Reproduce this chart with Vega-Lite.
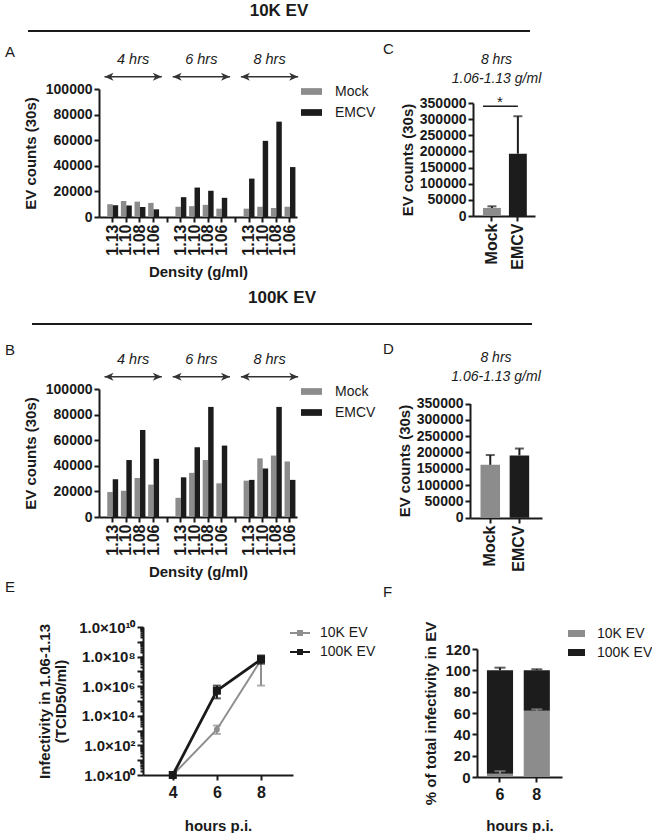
{
"$schema":"https://vega.github.io/schema/vega-lite/v6.json",
"padding":{"left":5,"top":2,"right":0,"bottom":0},
"bounds":"flush","spacing":0,"columns":4,"align":"each",
"resolve":{"scale":{"color":"independent","x":"independent","y":"independent","xOffset":"independent","shape":"independent","size":"independent","strokeWidth":"independent"},"legend":{"color":"independent"}},
"config":{"font":"Liberation Sans","view":{"stroke":null},
"axis":{"domainColor":"#1a1a1a","domainWidth":2,"tickColor":"#1a1a1a","tickWidth":2,"tickSize":5,"labelFontWeight":"bold","labelFontSize":14,"labelColor":"#1a1a1a","titleFontWeight":"bold","titleFontSize":15,"titleColor":"#1a1a1a","grid":false,"labelPadding":2,"labelOverlap":false,"labelFlush":false,"tickCount":500},
"title":{"color":"#1a1a1a"},"legend":{"labelColor":"#1a1a1a"}},
"datasets":{
"a10k":[
{"cat":"4h-1.13","series":"Mock","count":10000},{"cat":"4h-1.13","series":"EMCV","count":9200},
{"cat":"4h-1.10","series":"Mock","count":12500},{"cat":"4h-1.10","series":"EMCV","count":9000},
{"cat":"4h-1.08","series":"Mock","count":12000},{"cat":"4h-1.08","series":"EMCV","count":7800},
{"cat":"4h-1.06","series":"Mock","count":11000},{"cat":"4h-1.06","series":"EMCV","count":6000},
{"cat":"6h-1.13","series":"Mock","count":8000},{"cat":"6h-1.13","series":"EMCV","count":15500},
{"cat":"6h-1.10","series":"Mock","count":8500},{"cat":"6h-1.10","series":"EMCV","count":23000},
{"cat":"6h-1.08","series":"Mock","count":9500},{"cat":"6h-1.08","series":"EMCV","count":20500},
{"cat":"6h-1.06","series":"Mock","count":6500},{"cat":"6h-1.06","series":"EMCV","count":15000},
{"cat":"8h-1.13","series":"Mock","count":6500},{"cat":"8h-1.13","series":"EMCV","count":30000},
{"cat":"8h-1.10","series":"Mock","count":8000},{"cat":"8h-1.10","series":"EMCV","count":59500},
{"cat":"8h-1.08","series":"Mock","count":7000},{"cat":"8h-1.08","series":"EMCV","count":74500},
{"cat":"8h-1.06","series":"Mock","count":8000},{"cat":"8h-1.06","series":"EMCV","count":39000}],
"b100k":[
{"cat":"4h-1.13","series":"Mock","count":19500},{"cat":"4h-1.13","series":"EMCV","count":29500},
{"cat":"4h-1.10","series":"Mock","count":20500},{"cat":"4h-1.10","series":"EMCV","count":44500},
{"cat":"4h-1.08","series":"Mock","count":30500},{"cat":"4h-1.08","series":"EMCV","count":68000},
{"cat":"4h-1.06","series":"Mock","count":25300},{"cat":"4h-1.06","series":"EMCV","count":45500},
{"cat":"6h-1.13","series":"Mock","count":15000},{"cat":"6h-1.13","series":"EMCV","count":31000},
{"cat":"6h-1.10","series":"Mock","count":34500},{"cat":"6h-1.10","series":"EMCV","count":54500},
{"cat":"6h-1.08","series":"Mock","count":44500},{"cat":"6h-1.08","series":"EMCV","count":86000},
{"cat":"6h-1.06","series":"Mock","count":26300},{"cat":"6h-1.06","series":"EMCV","count":55800},
{"cat":"8h-1.13","series":"Mock","count":28400},{"cat":"8h-1.13","series":"EMCV","count":29000},
{"cat":"8h-1.10","series":"Mock","count":45800},{"cat":"8h-1.10","series":"EMCV","count":37900},
{"cat":"8h-1.08","series":"Mock","count":48000},{"cat":"8h-1.08","series":"EMCV","count":86000},
{"cat":"8h-1.06","series":"Mock","count":43400},{"cat":"8h-1.06","series":"EMCV","count":29000}],
"arrows":[
{"label":"4 hrs","first":"4h-1.13","last":"4h-1.06","mid":"4h-1.10"},
{"label":"6 hrs","first":"6h-1.13","last":"6h-1.06","mid":"6h-1.10"},
{"label":"8 hrs","first":"8h-1.13","last":"8h-1.06","mid":"8h-1.10"}],
"c10k":[{"series":"Mock","value":25000,"upper":30000},{"series":"EMCV","value":193000,"upper":309000}],
"d100k":[{"series":"Mock","value":162000,"upper":192000},{"series":"EMCV","value":191000,"upper":212000}],
"einf":[
{"hours":4,"series":"10K EV","value":1},{"hours":6,"series":"10K EV","value":1200,"lo":600,"hi":2200},{"hours":8,"series":"10K EV","value":60000000,"lo":1100000,"hi":110000000},
{"hours":4,"series":"100K EV","value":1},{"hours":6,"series":"100K EV","value":500000,"lo":150000,"hi":1100000},{"hours":8,"series":"100K EV","value":65000000,"lo":33000000,"hi":120000000}],
"fpct":[{"hours":"6","series":"10K EV","pct":3},{"hours":"6","series":"100K EV","pct":97},{"hours":"8","series":"10K EV","pct":62},{"hours":"8","series":"100K EV","pct":38}],
"ferr":[{"hours":"6","series":"100K EV","lo":100,"hi":102.5},{"hours":"6","series":"10K EV","lo":3,"hi":5.5},{"hours":"8","series":"100K EV","lo":100,"hi":101},{"hours":"8","series":"10K EV","lo":62,"hi":63.5}]
},
"concat":[
{"width":71,"height":58,"data":{"values":[{}]},"mark":{"type":"rule","strokeWidth":2,"color":"#1a1a1a"},
 "encoding":{"x":{"datum":0,"type":"quantitative","scale":{"domain":[0,1],"range":[0,502]},"axis":null},"x2":{"datum":1},"y":{"datum":1,"type":"quantitative","scale":{"domain":[0,1]},"axis":null}},
 "title":{"text":"10K EV","anchor":"middle","frame":"group","dx":215.5,"fontSize":17,"fontWeight":"bold","offset":10}},
{"width":1,"height":1,"data":{"values":[{}]},"mark":"text","encoding":{}},
{"width":1,"height":1,"data":{"values":[{}]},"mark":"text","encoding":{}},
{"width":1,"height":1,"data":{"values":[{}]},"mark":"text","encoding":{}},

{"width":71,"height":235,"data":{"values":[{}]},"mark":"text","encoding":{},"title":{"text":"A","anchor":"start","frame":"group","dx":-23,"offset":29,"fontSize":15,"fontWeight":"normal"}},
{"width":198,"height":128,"layer":[
  {"data":{"name":"a10k"},"mark":{"type":"bar"},"encoding":{
   "x":{"field":"cat","type":"nominal","sort":null,"scale":{"domain":["4h-1.13","4h-1.10","4h-1.08","4h-1.06","gap1","6h-1.13","6h-1.10","6h-1.08","6h-1.06","gap2","8h-1.13","8h-1.10","8h-1.08","8h-1.06"],"paddingInner":0.2,"paddingOuter":0.36,"align":0.84},"axis":{"labelExpr":"indexof(datum.value,'-')>0 ? split(datum.value,'-')[1] : ''","labelAngle":270,"labelFontSize":16,"title":"Density (g/ml)","titlePadding":9}},
   "xOffset":{"field":"series","type":"nominal","scale":{"domain":["Mock","EMCV"],"paddingInner":0,"paddingOuter":0}},
   "y":{"field":"count","type":"quantitative","scale":{"domain":[0,100000],"nice":false},"axis":{"values":[0,20000,40000,60000,80000,100000],"format":"d","title":"EV counts (30s)","titlePadding":7}},
   "color":{"field":"series","type":"nominal","scale":{"domain":["Mock","EMCV"],"range":["#8c8c8c","#1c1c1c"]},"legend":{"title":null,"orient":"none","legendX":202,"legendY":-8,"direction":"vertical","symbolType":"M-1,-0.32L1,-0.32L1,0.32L-1,0.32Z","symbolSize":441,"symbolStrokeWidth":0,"labelFontSize":14,"labelOffset":13,"rowPadding":3,"padding":0}}}},
  {"data":{"name":"arrows"},"mark":{"type":"rule","color":"#333333","strokeWidth":1.5},"encoding":{
   "x":{"field":"first","type":"nominal","bandPosition":-0.25,"scale":{"domain":["4h-1.13","4h-1.10","4h-1.08","4h-1.06","gap1","6h-1.13","6h-1.10","6h-1.08","6h-1.06","gap2","8h-1.13","8h-1.10","8h-1.08","8h-1.06"],"paddingInner":0.2,"paddingOuter":0.36,"align":0.84}},
   "x2":{"field":"last","bandPosition":1.25},
   "y":{"datum":109500,"type":"quantitative","scale":{"domain":[0,100000],"nice":false}}}},
  {"data":{"name":"arrows"},"mark":{"type":"point","shape":"M0,0L1.8,-0.8L1.3,0L1.8,0.8Z","filled":true,"size":100,"color":"#333333","opacity":1},"encoding":{
   "x":{"field":"first","type":"nominal","bandPosition":-0.25,"scale":{"domain":["4h-1.13","4h-1.10","4h-1.08","4h-1.06","gap1","6h-1.13","6h-1.10","6h-1.08","6h-1.06","gap2","8h-1.13","8h-1.10","8h-1.08","8h-1.06"],"paddingInner":0.2,"paddingOuter":0.36,"align":0.84}},
   "y":{"datum":109500,"type":"quantitative","scale":{"domain":[0,100000],"nice":false}}}},
  {"data":{"name":"arrows"},"mark":{"type":"point","shape":"M0,0L-1.8,-0.8L-1.3,0L-1.8,0.8Z","filled":true,"size":100,"color":"#333333","opacity":1},"encoding":{
   "x":{"field":"last","type":"nominal","bandPosition":1.25,"scale":{"domain":["4h-1.13","4h-1.10","4h-1.08","4h-1.06","gap1","6h-1.13","6h-1.10","6h-1.08","6h-1.06","gap2","8h-1.13","8h-1.10","8h-1.08","8h-1.06"],"paddingInner":0.2,"paddingOuter":0.36,"align":0.84}},
   "y":{"datum":109500,"type":"quantitative","scale":{"domain":[0,100000],"nice":false}}}},
  {"data":{"name":"arrows"},"mark":{"type":"text","fontStyle":"italic","fontSize":14.5,"color":"#1a1a1a"},"encoding":{
   "x":{"field":"mid","type":"nominal","bandPosition":1.125,"scale":{"domain":["4h-1.13","4h-1.10","4h-1.08","4h-1.06","gap1","6h-1.13","6h-1.10","6h-1.08","6h-1.06","gap2","8h-1.13","8h-1.10","8h-1.08","8h-1.06"],"paddingInner":0.2,"paddingOuter":0.36,"align":0.84}},
   "y":{"datum":123000,"type":"quantitative","scale":{"domain":[0,100000],"nice":false}},
   "text":{"field":"label"}}}
]},
{"width":173,"height":20,"data":{"values":[{}]},"mark":"text","encoding":{},"title":{"text":"C","anchor":"start","frame":"group","dx":86,"offset":32,"fontSize":15,"fontWeight":"normal"}},
{"width":65,"height":127,
 "title":{"text":["8 hrs","1.06-1.13 g/ml"],"frame":"group","anchor":"middle","dx":-6,"offset":3,"fontSize":14,"fontStyle":"italic","fontWeight":"normal","lineHeight":19},
 "layer":[
  {"data":{"name":"c10k"},"mark":{"type":"bar"},"encoding":{
   "x":{"field":"series","type":"nominal","sort":null,"scale":{"domain":["Mock","EMCV"],"paddingInner":0.31,"paddingOuter":0.35,"align":0.55,"range":[3,65]},"axis":{"labelAngle":270,"labelFontSize":16,"title":null}},
   "y":{"field":"value","type":"quantitative","scale":{"domain":[0,350000],"nice":false,"range":[127,14]},"axis":{"values":[0,50000,100000,150000,200000,250000,300000,350000],"format":"d","title":"EV counts (30s)","titlePadding":4,"offset":-3}},
   "color":{"field":"series","type":"nominal","scale":{"domain":["Mock","EMCV"],"range":["#8c8c8c","#1c1c1c"]},"legend":null}}},
  {"data":{"name":"c10k"},"mark":{"type":"rule","color":"#1c1c1c","strokeWidth":2},"encoding":{
   "x":{"field":"series","type":"nominal","scale":{"domain":["Mock","EMCV"],"paddingInner":0.31,"paddingOuter":0.35,"align":0.55,"range":[3,65]}},
   "y":{"field":"value","type":"quantitative","scale":{"domain":[0,350000],"nice":false,"range":[127,14]}},"y2":{"field":"upper"}}},
  {"data":{"name":"c10k"},"mark":{"type":"tick","color":"#1c1c1c","orient":"horizontal","size":9,"thickness":2},"encoding":{
   "x":{"field":"series","type":"nominal","scale":{"domain":["Mock","EMCV"],"paddingInner":0.31,"paddingOuter":0.35,"align":0.55,"range":[3,65]}},
   "y":{"field":"upper","type":"quantitative","scale":{"domain":[0,350000],"nice":false,"range":[127,14]}}}},
  {"data":{"values":[{"from":"Mock","to":"EMCV","mark":"*"}]},"mark":{"type":"rule","color":"#1c1c1c","strokeWidth":1.5},"encoding":{
   "x":{"field":"from","type":"nominal","bandPosition":0,"scale":{"domain":["Mock","EMCV"],"paddingInner":0.31,"paddingOuter":0.35,"align":0.55,"range":[3,65]}},
   "x2":{"field":"to","bandPosition":0.5},
   "y":{"datum":340000,"type":"quantitative","scale":{"domain":[0,350000],"nice":false,"range":[127,14]}}}},
  {"data":{"values":[{"from":"Mock","to":"EMCV","mark":"*"}]},"mark":{"type":"text","fontSize":15,"baseline":"alphabetic","color":"#1c1c1c"},"encoding":{
   "x":{"field":"from","type":"nominal","bandPosition":0.94,"scale":{"domain":["Mock","EMCV"],"paddingInner":0.31,"paddingOuter":0.35,"align":0.55,"range":[3,65]}},
   "y":{"datum":338000,"type":"quantitative","scale":{"domain":[0,350000],"nice":false,"range":[127,14]}},
   "text":{"field":"mark"}}}
]},

{"width":71,"height":65,"data":{"values":[{}]},"mark":{"type":"rule","strokeWidth":2,"color":"#1a1a1a"},
 "encoding":{"x":{"datum":0,"type":"quantitative","scale":{"domain":[0,1],"range":[4,504]},"axis":null},"x2":{"datum":1},"y":{"datum":1,"type":"quantitative","scale":{"domain":[0,1]},"axis":null}},
 "title":{"text":"100K EV","anchor":"middle","frame":"group","dx":218.5,"fontSize":17,"fontWeight":"bold","offset":16}},
{"width":1,"height":1,"data":{"values":[{}]},"mark":"text","encoding":{}},
{"width":1,"height":1,"data":{"values":[{}]},"mark":"text","encoding":{}},
{"width":1,"height":1,"data":{"values":[{}]},"mark":"text","encoding":{}},

{"width":71,"height":238,"data":{"values":[{}]},"mark":"text","encoding":{},"title":{"text":"B","anchor":"start","frame":"group","dx":-23,"offset":31,"fontSize":15,"fontWeight":"normal"}},
{"width":198,"height":128,"layer":[
  {"data":{"name":"b100k"},"mark":{"type":"bar"},"encoding":{
   "x":{"field":"cat","type":"nominal","sort":null,"scale":{"domain":["4h-1.13","4h-1.10","4h-1.08","4h-1.06","gap1","6h-1.13","6h-1.10","6h-1.08","6h-1.06","gap2","8h-1.13","8h-1.10","8h-1.08","8h-1.06"],"paddingInner":0.2,"paddingOuter":0.36,"align":0.84},"axis":{"labelExpr":"indexof(datum.value,'-')>0 ? split(datum.value,'-')[1] : ''","labelAngle":270,"labelFontSize":16,"title":"Density (g/ml)","titlePadding":9}},
   "xOffset":{"field":"series","type":"nominal","scale":{"domain":["Mock","EMCV"],"paddingInner":0,"paddingOuter":0}},
   "y":{"field":"count","type":"quantitative","scale":{"domain":[0,100000],"nice":false},"axis":{"values":[0,20000,40000,60000,80000,100000],"format":"d","title":"EV counts (30s)","titlePadding":7}},
   "color":{"field":"series","type":"nominal","scale":{"domain":["Mock","EMCV"],"range":["#8c8c8c","#1c1c1c"]},"legend":{"title":null,"orient":"none","legendX":202,"legendY":-8,"direction":"vertical","symbolType":"M-1,-0.32L1,-0.32L1,0.32L-1,0.32Z","symbolSize":441,"symbolStrokeWidth":0,"labelFontSize":14,"labelOffset":13,"rowPadding":3,"padding":0}}}},
  {"data":{"name":"arrows"},"mark":{"type":"rule","color":"#333333","strokeWidth":1.5},"encoding":{
   "x":{"field":"first","type":"nominal","bandPosition":-0.25,"scale":{"domain":["4h-1.13","4h-1.10","4h-1.08","4h-1.06","gap1","6h-1.13","6h-1.10","6h-1.08","6h-1.06","gap2","8h-1.13","8h-1.10","8h-1.08","8h-1.06"],"paddingInner":0.2,"paddingOuter":0.36,"align":0.84}},
   "x2":{"field":"last","bandPosition":1.25},
   "y":{"datum":109500,"type":"quantitative","scale":{"domain":[0,100000],"nice":false}}}},
  {"data":{"name":"arrows"},"mark":{"type":"point","shape":"M0,0L1.8,-0.8L1.3,0L1.8,0.8Z","filled":true,"size":100,"color":"#333333","opacity":1},"encoding":{
   "x":{"field":"first","type":"nominal","bandPosition":-0.25,"scale":{"domain":["4h-1.13","4h-1.10","4h-1.08","4h-1.06","gap1","6h-1.13","6h-1.10","6h-1.08","6h-1.06","gap2","8h-1.13","8h-1.10","8h-1.08","8h-1.06"],"paddingInner":0.2,"paddingOuter":0.36,"align":0.84}},
   "y":{"datum":109500,"type":"quantitative","scale":{"domain":[0,100000],"nice":false}}}},
  {"data":{"name":"arrows"},"mark":{"type":"point","shape":"M0,0L-1.8,-0.8L-1.3,0L-1.8,0.8Z","filled":true,"size":100,"color":"#333333","opacity":1},"encoding":{
   "x":{"field":"last","type":"nominal","bandPosition":1.25,"scale":{"domain":["4h-1.13","4h-1.10","4h-1.08","4h-1.06","gap1","6h-1.13","6h-1.10","6h-1.08","6h-1.06","gap2","8h-1.13","8h-1.10","8h-1.08","8h-1.06"],"paddingInner":0.2,"paddingOuter":0.36,"align":0.84}},
   "y":{"datum":109500,"type":"quantitative","scale":{"domain":[0,100000],"nice":false}}}},
  {"data":{"name":"arrows"},"mark":{"type":"text","fontStyle":"italic","fontSize":14.5,"color":"#1a1a1a"},"encoding":{
   "x":{"field":"mid","type":"nominal","bandPosition":1.125,"scale":{"domain":["4h-1.13","4h-1.10","4h-1.08","4h-1.06","gap1","6h-1.13","6h-1.10","6h-1.08","6h-1.06","gap2","8h-1.13","8h-1.10","8h-1.08","8h-1.06"],"paddingInner":0.2,"paddingOuter":0.36,"align":0.84}},
   "y":{"datum":123000,"type":"quantitative","scale":{"domain":[0,100000],"nice":false}},
   "text":{"field":"label"}}}
]},
{"width":173,"height":20,"data":{"values":[{}]},"mark":"text","encoding":{},"title":{"text":"D","anchor":"start","frame":"group","dx":86,"offset":32,"fontSize":15,"fontWeight":"normal"}},
{"width":72,"height":129,
 "title":{"text":["8 hrs","1.06-1.13 g/ml"],"frame":"group","anchor":"middle","dx":-10,"offset":5,"fontSize":14,"fontStyle":"italic","fontWeight":"normal","lineHeight":19},
 "layer":[
  {"data":{"name":"d100k"},"mark":{"type":"bar"},"encoding":{
   "x":{"field":"series","type":"nominal","sort":null,"scale":{"domain":["Mock","EMCV"],"paddingInner":0.33,"paddingOuter":0.4,"align":0.45},"axis":{"labelAngle":270,"labelFontSize":16,"title":null}},
   "y":{"field":"value","type":"quantitative","scale":{"domain":[0,350000],"nice":false,"range":[128.7,14.5]},"axis":{"values":[0,50000,100000,150000,200000,250000,300000,350000],"format":"d","title":"EV counts (30s)","titlePadding":4}},
   "color":{"field":"series","type":"nominal","scale":{"domain":["Mock","EMCV"],"range":["#8c8c8c","#1c1c1c"]},"legend":null}}},
  {"data":{"name":"d100k"},"mark":{"type":"rule","color":"#1c1c1c","strokeWidth":2},"encoding":{
   "x":{"field":"series","type":"nominal","scale":{"domain":["Mock","EMCV"],"paddingInner":0.33,"paddingOuter":0.4,"align":0.45}},
   "y":{"field":"value","type":"quantitative","scale":{"domain":[0,350000],"nice":false,"range":[128.7,14.5]}},"y2":{"field":"upper"}}},
  {"data":{"name":"d100k"},"mark":{"type":"tick","color":"#1c1c1c","orient":"horizontal","size":9,"thickness":2},"encoding":{
   "x":{"field":"series","type":"nominal","scale":{"domain":["Mock","EMCV"],"paddingInner":0.33,"paddingOuter":0.4,"align":0.45}},
   "y":{"field":"upper","type":"quantitative","scale":{"domain":[0,350000],"nice":false,"range":[128.7,14.5]}}}}
]},

{"width":71,"height":20,"data":{"values":[{}]},"mark":"text","encoding":{},"title":{"text":"E","anchor":"start","frame":"group","dx":-23,"offset":32,"fontSize":15,"fontWeight":"normal"}},
{"width":194,"height":148,"data":{"name":"einf"},"resolve":{"legend":{"color":"independent"}},"layer":[
  {"mark":{"type":"line"},"encoding":{
   "x":{"field":"hours","type":"quantitative","scale":{"domain":[2.65,9.45],"nice":false,"zero":false,"range":[44,194]},"axis":{"values":[4,6,8],"format":"d","title":"hours p.i.","labelFontSize":16,"labelPadding":4,"titlePadding":18}},
   "y":{"field":"value","type":"quantitative","scale":{"type":"log","domain":[1,10000000000],"nice":false},"axis":{"offset":-44,"title":["Infectivity in 1.06-1.13","(TCID50/ml)"],"titlePadding":10,"titleLineHeight":16,"labelFontSize":15,
     "values":[1,2,3,4,5,6,7,8,9,10,20,30,40,50,60,70,80,90,100,200,300,400,500,600,700,800,900,1000,2000,3000,4000,5000,6000,7000,8000,9000,10000,20000,30000,40000,50000,60000,70000,80000,90000,100000,200000,300000,400000,500000,600000,700000,800000,900000,1000000,2000000,3000000,4000000,5000000,6000000,7000000,8000000,9000000,10000000,20000000,30000000,40000000,50000000,60000000,70000000,80000000,90000000,100000000,200000000,300000000,400000000,500000000,600000000,700000000,800000000,900000000,1000000000,2000000000,3000000000,4000000000,5000000000,6000000000,7000000000,8000000000,9000000000,10000000000],
     "labelExpr":"abs(log(datum.value)/LN10 - round(log(datum.value)/LN10)) < 0.001 && round(log(datum.value)/LN10) % 2 == 0 ? '1.0×10' + ['⁰','¹','²','³','⁴','⁵','⁶','⁷','⁸','⁹','¹⁰'][round(log(datum.value)/LN10)] : ''",
     "tickSize":{"condition":{"test":"abs(log(datum.value)/LN10 - round(log(datum.value)/LN10)) < 0.001","value":6},"value":3}}},
   "color":{"field":"series","type":"nominal","scale":{"domain":["10K EV","100K EV"],"range":["#8f8f8f","#1a1a1a"]},"legend":null},
   "strokeWidth":{"field":"series","type":"nominal","scale":{"domain":["10K EV","100K EV"],"range":[2,2.8]},"legend":null}}},
  {"mark":{"type":"rule","strokeWidth":2},"encoding":{
   "x":{"field":"hours","type":"quantitative","scale":{"domain":[2.65,9.45],"nice":false,"zero":false,"range":[44,194]}},
   "y":{"field":"lo","type":"quantitative","scale":{"type":"log","domain":[1,10000000000],"nice":false}},"y2":{"field":"hi"},
   "color":{"field":"series","type":"nominal","scale":{"domain":["10K EV","100K EV"],"range":["#8f8f8f","#1a1a1a"]},"legend":null}}},
  {"mark":{"type":"tick","orient":"horizontal","size":8,"thickness":2},"encoding":{
   "x":{"field":"hours","type":"quantitative","scale":{"domain":[2.65,9.45],"nice":false,"zero":false,"range":[44,194]}},
   "y":{"field":"lo","type":"quantitative","scale":{"type":"log","domain":[1,10000000000],"nice":false}},
   "color":{"field":"series","type":"nominal","scale":{"domain":["10K EV","100K EV"],"range":["#8f8f8f","#1a1a1a"]},"legend":null}}},
  {"mark":{"type":"tick","orient":"horizontal","size":8,"thickness":2},"encoding":{
   "x":{"field":"hours","type":"quantitative","scale":{"domain":[2.65,9.45],"nice":false,"zero":false,"range":[44,194]}},
   "y":{"field":"hi","type":"quantitative","scale":{"type":"log","domain":[1,10000000000],"nice":false}},
   "color":{"field":"series","type":"nominal","scale":{"domain":["10K EV","100K EV"],"range":["#8f8f8f","#1a1a1a"]},"legend":null}}},
  {"mark":{"type":"point","filled":true,"opacity":1},"encoding":{
   "x":{"field":"hours","type":"quantitative","scale":{"domain":[2.65,9.45],"nice":false,"zero":false,"range":[44,194]}},
   "y":{"field":"value","type":"quantitative","scale":{"type":"log","domain":[1,10000000000],"nice":false}},
   "color":{"field":"series","type":"nominal","scale":{"domain":["10K EV","100K EV"],"range":["#8f8f8f","#1a1a1a"]},"legend":{"title":null,"orient":"none","legendX":191,"legendY":-4,"direction":"vertical","symbolType":"M-1,-0.1L1,-0.1L1,0.1L-1,0.1Z M-0.3,-0.3L0.3,-0.3L0.3,0.3L-0.3,0.3Z","symbolSize":400,"symbolStrokeWidth":0,"labelFontSize":14,"labelOffset":10,"rowPadding":2,"padding":0}},
   "shape":{"field":"series","type":"nominal","scale":{"domain":["10K EV","100K EV"],"range":["circle","square"]},"legend":null},
   "size":{"field":"series","type":"nominal","scale":{"domain":["10K EV","100K EV"],"range":[35,65]},"legend":null}}}
]},
{"width":173,"height":20,"data":{"values":[{}]},"mark":"text","encoding":{},"title":{"text":"F","anchor":"start","frame":"group","dx":86,"offset":27,"fontSize":15,"fontWeight":"normal"}},
{"width":92,"height":150,"layer":[
   {"data":{"name":"fpct"},"mark":{"type":"bar"},"encoding":{
    "x":{"field":"hours","type":"nominal","sort":null,"scale":{"domain":["6","8"],"paddingInner":0.29,"paddingOuter":0.3,"align":0.45,"range":[7,92]},"axis":{"labelAngle":0,"labelFontSize":16,"labelPadding":4,"title":"hours p.i.","titlePadding":16}},
    "y":{"field":"pct","type":"quantitative","stack":"zero","scale":{"domain":[0,120],"nice":false,"range":[150,22]},"axis":{"offset":-7,"values":[0,20,40,60,80,100,120],"format":"d","title":"% of total infectivity in EV","titlePadding":6,"labelFontSize":15}},
    "color":{"field":"series","type":"nominal","scale":{"domain":["10K EV","100K EV"],"range":["#8c8c8c","#1c1c1c"]},"legend":{"title":null,"orient":"none","legendX":98,"legendY":-2,"direction":"vertical","symbolType":"M-1,-0.41L1,-0.41L1,0.41L-1,0.41Z","symbolSize":289,"symbolStrokeWidth":0,"labelFontSize":14,"labelOffset":12,"rowPadding":3,"padding":0}},
    "order":{"field":"series","sort":"descending"}}},
   {"data":{"name":"ferr"},"transform":[{"filter":"datum.series == '100K EV'"}],"mark":{"type":"rule","color":"#1c1c1c","strokeWidth":2},"encoding":{
    "x":{"field":"hours","type":"nominal","scale":{"domain":["6","8"],"paddingInner":0.29,"paddingOuter":0.3,"align":0.45,"range":[7,92]}},
    "y":{"field":"lo","type":"quantitative","scale":{"domain":[0,120],"nice":false,"range":[150,22]}},"y2":{"field":"hi"}}},
   {"data":{"name":"ferr"},"transform":[{"filter":"datum.series == '100K EV'"}],"mark":{"type":"tick","color":"#1c1c1c","orient":"horizontal","size":11,"thickness":2},"encoding":{
    "x":{"field":"hours","type":"nominal","scale":{"domain":["6","8"],"paddingInner":0.29,"paddingOuter":0.3,"align":0.45,"range":[7,92]}},
    "y":{"field":"hi","type":"quantitative","scale":{"domain":[0,120],"nice":false,"range":[150,22]}}}},
   {"data":{"name":"ferr"},"transform":[{"filter":"datum.series == '10K EV'"}],"mark":{"type":"rule","color":"#8c8c8c","strokeWidth":2},"encoding":{
    "x":{"field":"hours","type":"nominal","scale":{"domain":["6","8"],"paddingInner":0.29,"paddingOuter":0.3,"align":0.45,"range":[7,92]}},
    "y":{"field":"lo","type":"quantitative","scale":{"domain":[0,120],"nice":false,"range":[150,22]}},"y2":{"field":"hi"}}},
   {"data":{"name":"ferr"},"transform":[{"filter":"datum.series == '10K EV'"}],"mark":{"type":"tick","color":"#8c8c8c","orient":"horizontal","size":11,"thickness":2},"encoding":{
    "x":{"field":"hours","type":"nominal","scale":{"domain":["6","8"],"paddingInner":0.29,"paddingOuter":0.3,"align":0.45,"range":[7,92]}},
    "y":{"field":"hi","type":"quantitative","scale":{"domain":[0,120],"nice":false,"range":[150,22]}}}}
]}
]
}
